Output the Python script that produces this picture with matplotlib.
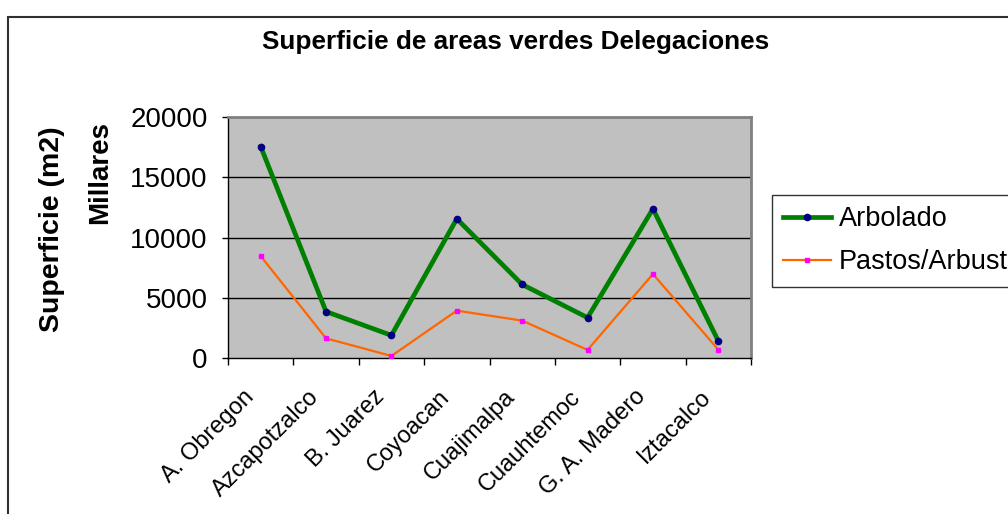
import numpy as np
import matplotlib
matplotlib.use("Agg")
import matplotlib.pyplot as plt
from matplotlib.patches import Rectangle
from matplotlib.transforms import ScaledTranslation

plt.rcParams["font.family"] = ["Liberation Sans", "DejaVu Sans"]

# data
delegaciones = ["A. Obregon", "Azcapotzalco", "B. Juarez", "Coyoacan",
                "Cuajimalpa", "Cuauhtemoc", "G. A. Madero", "Iztacalco"]
arbolado = [17550, 3850, 1880, 11550, 6100, 3350, 12380, 1410]
pastos = [8460, 1630, 170, 3930, 3100, 670, 6970, 690]
y_ticks = [0, 5000, 10000, 15000, 20000]


def create_plot():
    fig = plt.figure(figsize=(10.08, 5.14), dpi=100)

    # outer chart border (cropped on right/bottom like the reference)
    fig.patches.append(Rectangle((8 / 1008, -0.05), 1.2, 1 - 17 / 514 + 0.05,
                                 transform=fig.transFigure, fill=False,
                                 edgecolor="#303030", linewidth=1.5))

    ax = fig.add_axes([228 / 1008, 1 - 358 / 514, 523 / 1008, 241 / 514])
    ax.set_facecolor("#C0C0C0")

    x = np.arange(len(delegaciones))
    ax.plot(x, arbolado, color="#008000", linewidth=3.4, marker="o",
            markersize=4.5, markerfacecolor="#000080", markeredgecolor="#000080",
            label="Arbolado", zorder=3)
    ax.plot(x, pastos, color="#FF6600", linewidth=1.6, marker="s",
            markersize=3, markerfacecolor="#FF00FF", markeredgecolor="#FF00FF",
            label="Pastos/Arbust", zorder=3)

    ax.set_xlim(-0.5, len(delegaciones) - 0.5)
    ax.set_ylim(0, 20000)
    ax.set_yticks(y_ticks)
    ax.set_yticklabels([str(v) for v in y_ticks], fontsize=20)
    for v in y_ticks[1:-1]:
        ax.axhline(v, color="black", linewidth=1, zorder=1)

    ax.set_xticks(x)
    ax.set_xticklabels(delegaciones, fontsize=17, rotation=45, ha="right",
                       va="top", rotation_mode="anchor")
    ax.set_xticks(np.arange(-0.5, len(delegaciones)), minor=True)
    ax.tick_params(axis="x", which="major", length=0, pad=10)
    ax.tick_params(axis="x", which="minor", length=5, direction="out", width=1)
    ax.tick_params(axis="y", length=4.5, direction="out", width=1, pad=10)

    # nudge category labels to sit like the reference
    shift = ScaledTranslation(-18 / 100, -14 / 100, fig.dpi_scale_trans)
    for lbl in ax.get_xticklabels():
        lbl.set_transform(lbl.get_transform() + shift)

    for side in ["top", "right"]:
        ax.spines[side].set_color("#808080")
        ax.spines[side].set_linewidth(2)
    for side in ["left", "bottom"]:
        ax.spines[side].set_color("black")
        ax.spines[side].set_linewidth(1)

    fig.text(0.512, 0.918, "Superficie de areas verdes Delegaciones",
             fontsize=18.8, fontweight="bold", ha="center", va="center")
    fig.text(52 / 1008, 1 - 229 / 514, "Superficie (m2)", fontsize=20.5,
             fontweight="bold", rotation=90, ha="center", va="center")
    fig.text(100 / 1008, 1 - 173 / 514, "Millares", fontsize=20,
             fontweight="bold", rotation=90, ha="center", va="center")

    leg = ax.legend(loc="upper left", bbox_to_anchor=(772 / 1008, 1 - 195 / 514),
                    bbox_transform=fig.transFigure, fontsize=19.5, frameon=True,
                    fancybox=False, borderpad=0.42, handlelength=1.75,
                    handletextpad=0.3, labelspacing=0.62, borderaxespad=0)
    leg.get_frame().set_edgecolor("black")
    leg.get_frame().set_linewidth(1)

    fig.savefig("out.png", dpi=100)


if __name__ == "__main__":
    create_plot()
